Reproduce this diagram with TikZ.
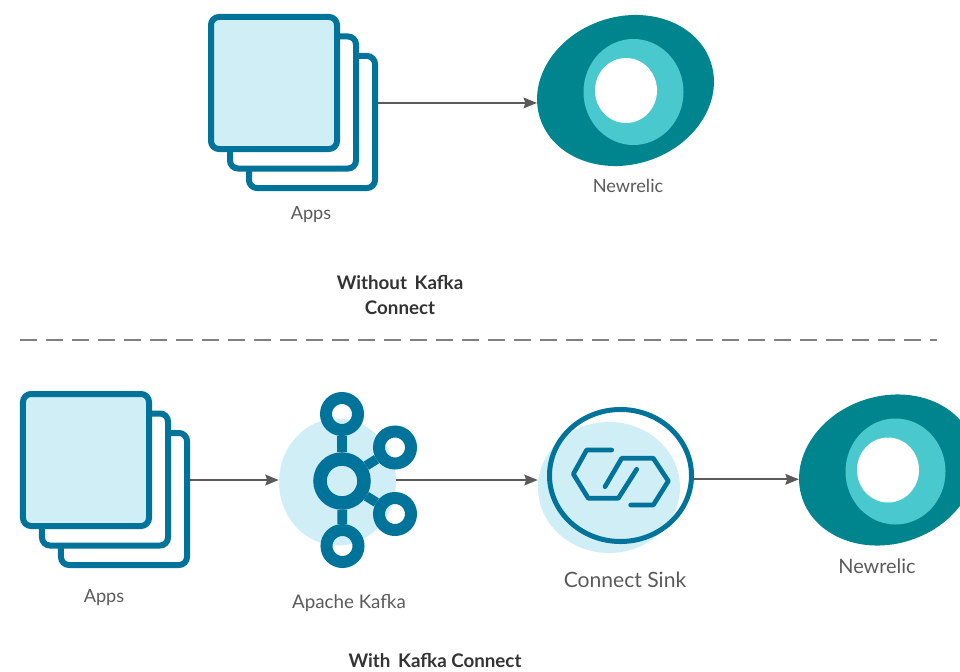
\documentclass[tikz,border=0pt]{standalone}
\usepackage{fontspec}
\setmainfont{Lato}
\usetikzlibrary{arrows.meta,shapes.geometric}
\definecolor{kblue}{HTML}{00739A}
\definecolor{kpale}{HTML}{CFEEF5}
\definecolor{kteal}{HTML}{00848E}
\definecolor{kaqua}{HTML}{49C9CD}
\definecolor{kgrey}{HTML}{5A5A5A}
\tikzset{
  pagecard/.style={draw=kblue, fill=white, line width=0.18cm, rounded corners=0.24cm,
    inner sep=0, minimum width=3.78cm, minimum height=3.96cm},
  blob/.style={ellipse, fill=kpale, inner sep=0},
  eyeball/.style={ellipse, fill=kteal, inner sep=0, rotate=18,
    minimum width=5.39cm, minimum height=4.43cm},
  eyeiris/.style={ellipse, fill=kaqua, inner sep=0, minimum width=3cm, minimum height=3.18cm},
  eyepupil/.style={ellipse, fill=white, inner sep=0, minimum width=1.86cm, minimum height=1.95cm},
  ring/.style={circle, draw=kblue, line width=0.36cm, inner sep=0, minimum size=0.96cm},
  spoke/.style={draw=kblue, line width=0.29cm},
  linkline/.style={draw=kblue, line width=0.14cm, line cap=round, line join=round},
  flow/.style={draw=kgrey, line width=0.055cm, -{Stealth[length=0.4cm, width=0.32cm, inset=0.05cm]}},
  label/.style={text=kgrey, font=\fontsize{15.5}{18}\selectfont},
  caption/.style={text=black!80, inner sep=0, font=\fontsize{16}{21.5}\selectfont\bfseries, align=center},
}
\begin{document}
\begin{tikzpicture}[x=0.03cm,y=-0.03cm]
  \useasboundingbox (0,0) rectangle (960,671);
  % without kafka connect
  \foreach \x/\y/\nm in {312/122/appsback,293/102.5/appsmid} {
    \node[pagecard] (\nm) at (\x,\y) {};
  }
  \node[pagecard, fill=kpale] (appsfront) at (274,83) {};
  \node[eyeball] (eyeone) at (625.5,90.5) {};
  \node[eyeiris] (irisone) at (633.5,92) {};
  \node[eyepupil] (pupilone) at (626,90.5) {};
  \draw[flow] (appsback.east |- eyeone.170) -- (eyeone.170);
  \node[label] (appslabel) at (311,214.5) {Apps};
  \node[label] (eyelabel) at (628,185.5) {Newrelic};
  \node[caption] (topcaption) at (400,295) {Without\, Kafka\\Connect};
  % divider
  \coordinate (divleft) at (20,340);
  \coordinate (divright) at (937,340);
  \draw[draw=black!50, line width=0.075cm, dash pattern=on 0.51cm off 0.27cm] (divleft) -- (divright);
  % with kafka connect
  \coordinate (lowrow) at (0,480);
  \foreach \x/\y/\nm in {124/499/lowback,105/479.5/lowmid} {
    \node[pagecard] (\nm) at (\x,\y) {};
  }
  \node[pagecard, fill=kpale] (lowfront) at (86,460) {};
  % kafka icon
  \node[blob, minimum width=3.51cm, minimum height=3.81cm] (kafkablob) at (337.5,482) {};
  \node[ring, line width=0.405cm, minimum size=1.32cm] (kafkahub) at (342,481) {};
  \foreach \x/\y/\nm in {342/414/kafkatop,342.5/546/kafkabot,395/447.5/kafkaup,395/514/kafkadown} {
    \node[ring] (\nm) at (\x,\y) {};
    \draw[spoke] (kafkahub) -- (\nm);
  }
  % sink icon
  \node[blob, minimum width=4.26cm, minimum height=3.93cm] (sinkblob) at (609,487.5) {};
  \node[ellipse, draw=kblue, line width=0.15cm, inner sep=0, minimum width=4.26cm, minimum height=3.96cm] (sinkring) at (620.5,475.5) {};
  \draw[linkline] (611.7,450) -- (586.7,450) -- (573.3,474) -- (588.3,498.3) -- (618.3,498.3) -- (636.7,469.3);
  \draw[linkline] (605,486.7) -- (621.7,458.3) -- (653.3,458.3) -- (668.3,481) -- (653.3,505) -- (630.7,505);
  \node[eyeball] (eyetwo) at (887.5,470) {};
  \node[eyeiris] (iristwo) at (895.5,471.5) {};
  \node[eyepupil] (pupiltwo) at (888,470) {};
  \draw[flow] (lowback.east |- lowrow) -- (kafkablob.west |- lowrow);
  \draw[flow] (kafkablob.east |- lowrow) -- (sinkblob.west |- lowrow);
  \draw[flow] (sinkring.east |- eyetwo.168.7) -- (eyetwo.168.7);
  \node[label] (lowappslabel) at (104,597.5) {Apps};
  \node[label, font=\fontsize{16}{19}\selectfont] (kafkalabel) at (349,603.5) {Apache Kafka};
  \node[label, font=\fontsize{18}{21}\selectfont] (sinklabel) at (625,580) {Connect Sink};
  \node[label, font=\fontsize{17}{20}\selectfont] (loweyelabel) at (877,566.5) {Newrelic};
  \node[caption] (lowcaption) at (435,660) {With\, Kafka Connect};
\end{tikzpicture}
\end{document}
